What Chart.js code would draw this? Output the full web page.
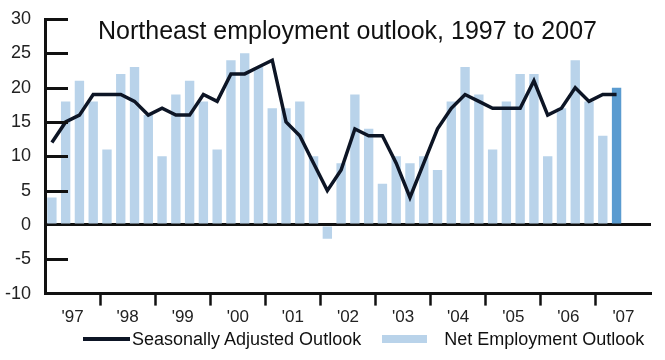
<!DOCTYPE html>
<html>
<head>
<meta charset="utf-8">
<script src="https://cdn.jsdelivr.net/npm/chart.js@4"></script>
<style>
    body { margin: 0; background: #fff; font-family: "Liberation Sans", Arial, sans-serif; }
    #wrap { position: relative; width: 665px; height: 360px; }
    #title { position: absolute; left: 0; width: 695px; top: 16px; text-align: center; font-size: 25px; color: #111; }
    #legend { position: absolute; top: 328px; left: 83px; font-size: 18px; color: #111; white-space: nowrap; }
    #legend span { display: inline-block; vertical-align: middle; }
    .swatch-line { width: 47px; height: 4px; background: #0d1525; margin-right: 2px; }
    .swatch-bar { width: 45px; height: 8px; background: #b9d3ea; margin-left: 21px; margin-right: 17px; }
</style>
</head>
<body>
<div id="wrap">
    <canvas id="chart" width="665" height="360"></canvas>
    <div id="title">Northeast employment outlook, 1997 to 2007</div>
    <div id="legend">
        <span class="swatch-line"></span><span>Seasonally Adjusted Outlook</span><span class="swatch-bar"></span><span>Net Employment Outlook</span>
    </div>
</div>
<script>
// quarters 1997 Q1 .. 2007 Q4 (last two quarters have no data yet)
var years = ["'97", "'98", "'99", "'00", "'01", "'02", "'03", "'04", "'05", "'06", "'07"];
var quarters = [];
years.forEach(function (y) {
    ['Q1', 'Q2', 'Q3', 'Q4'].forEach(function (q) { quarters.push(y + ' ' + q); });
});

var netOutlook = [4, 18, 21, 18, 11, 22, 23, 16, 10, 19, 21, 18, 11, 24, 25, 23, 17, 17, 18, 10,
    -2, 9, 19, 14, 6, 10, 9, 10, 8, 18, 23, 19, 11, 18, 22, 22, 10, 17, 24, 18, 13, 20];
var seasonallyAdjusted = [12, 15, 16, 19, 19, 19, 18, 16, 17, 16, 16, 19, 18, 22, 22, 23, 24, 15, 13, 9,
    5, 8, 14, 13, 13, 9, 4, 9, 14, 17, 19, 18, 17, 17, 17, 21, 16, 17, 20, 18, 19, 19];
var yTicks = [-10, -5, 0, 5, 10, 15, 20, 25, 30];

var lightBlue = '#b9d3ea';
var darkBlue = '#5a9bd0';

/**
 * Draws the short inward tick marks on the y axis
 */
var inwardTicks = {
    id: 'inwardTicks',
    afterDraw: function (chart) {
        var ctx = chart.ctx;
        var yScale = chart.scales.y;
        var left = chart.chartArea.left;
        ctx.save();
        ctx.strokeStyle = '#111';
        ctx.lineWidth = 3;
        yTicks.forEach(function (v) {
            if (v === 0 || v === -10) return;
            var py = Math.round(yScale.getPixelForValue(v)) + 0.5;
            ctx.beginPath();
            ctx.moveTo(left, py);
            ctx.lineTo(left + 23, py);
            ctx.stroke();
        });
        ctx.restore();
    }
};

new Chart(document.getElementById('chart').getContext('2d'), {
    data: {
        labels: quarters,
        datasets: [
            {
                type: 'line',
                label: 'Seasonally Adjusted Outlook',
                data: seasonallyAdjusted,
                borderColor: '#0d1525',
                borderWidth: 3.5,
                pointRadius: 0,
                tension: 0,
                order: 0
            },
            {
                type: 'bar',
                label: 'Net Employment Outlook',
                data: netOutlook,
                backgroundColor: netOutlook.map(function (v, i) { return i === netOutlook.length - 1 ? darkBlue : lightBlue; }),
                barPercentage: 0.68,
                categoryPercentage: 1,
                order: 1
            }
        ]
    },
    options: {
        responsive: false,
        animation: false,
        layout: { padding: { left: 3, right: 14, top: 19, bottom: 30 } },
        plugins: {
            legend: { display: false },
            title: { display: false },
            tooltip: { enabled: false }
        },
        scales: {
            x: {
                display: false,
                offset: true
            },
            years: {
                type: 'category',
                labels: years,
                position: 'bottom',
                offset: true,
                border: { display: true, color: '#111', width: 3 },
                grid: {
                    offset: true,
                    drawOnChartArea: false,
                    tickLength: 12,
                    tickWidth: 2.5,
                    color: function (c) { return c.index > 0 ? '#111' : 'rgba(0,0,0,0)'; },
                    tickColor: function (c) { return c.index > 0 ? '#111' : 'rgba(0,0,0,0)'; }
                },
                ticks: {
                    color: '#222',
                    font: { family: 'Liberation Sans', size: 17 },
                    padding: 2,
                    maxRotation: 0,
                    autoSkip: false
                }
            },
            y: {
                min: -10,
                max: 30,
                border: { display: true, color: '#111', width: 3 },
                grid: {
                    drawTicks: false,
                    lineWidth: 3,
                    color: function (c) { return c.tick && c.tick.value === 0 ? '#111' : 'rgba(0,0,0,0)'; }
                },
                afterBuildTicks: function (scale) {
                    scale.ticks = yTicks.map(function (v) { return { value: v }; });
                },
                afterFit: function (scale) {
                    scale.width = 42;
                    scale.paddingTop = 0;
                    scale.paddingBottom = 0;
                },
                ticks: {
                    color: '#222',
                    font: { family: 'Liberation Sans', size: 18 },
                    padding: 14
                }
            }
        }
    },
    plugins: [inwardTicks]
});
</script>
</body>
</html>
